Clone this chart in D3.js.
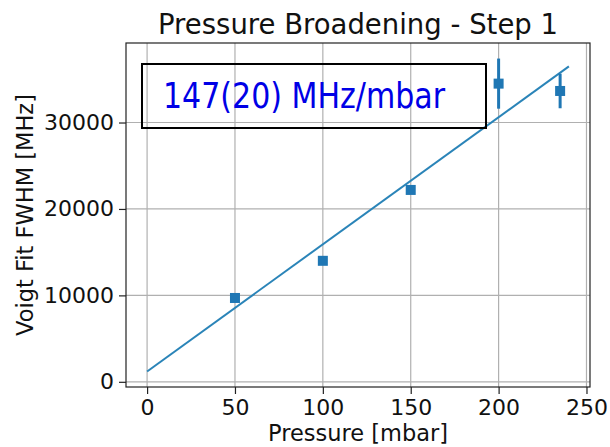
<!DOCTYPE html>
<html lang="en">
  <head>
    <meta charset="utf-8">
    <title>Pressure Broadening - Step 1</title>
    <script src="https://cdn.jsdelivr.net/npm/d3@7"></script>
    <style type="text/css">
     body { margin: 0; background: #fff; }
     text { font-family: "DejaVu Sans", sans-serif; }
    </style>
  </head>
  <body>
    <script type="text/javascript">
     // data
     let pressure = [50, 100, 150, 200, 235];            // mbar
     let fwhm = [9700, 14000, 22200, 34500, 33650];      // MHz
     let fwhmErr = [250, 300, 350, 2900, 2000];
     let fitX = [0, 240];
     let fitY = [1200, 36500];
     let xTicks = [0, 50, 100, 150, 200, 250];
     let yTicks = [0, 10000, 20000, 30000];
     let annotation = "147(20) MHz/mbar";

     let w = 610, h = 447;
     let margin = {top: 43, right: 20, bottom: 60, left: 126};

     let svg = d3.select("body").append("svg")
                 .attr("width", w)
                 .attr("height", h)
                 .style("display", "block");

     let xScale = d3.scaleLinear()
                    .domain([-12, 252])
                    .range([margin.left, w - margin.right]);
     let yScale = d3.scaleLinear()
                    .domain([-600, 39200])
                    .range([h - margin.bottom, margin.top]);

     // grid
     svg.append("g").selectAll("line")
        .data(xTicks).enter().append("line")
        .attr("x1", d => xScale(d)).attr("x2", d => xScale(d))
        .attr("y1", margin.top).attr("y2", h - margin.bottom)
        .attr("stroke", "#b0b0b0").attr("stroke-width", 1.2);
     svg.append("g").selectAll("line")
        .data(yTicks).enter().append("line")
        .attr("y1", d => yScale(d)).attr("y2", d => yScale(d))
        .attr("x1", margin.left).attr("x2", w - margin.right)
        .attr("stroke", "#b0b0b0").attr("stroke-width", 1.2);

     // axes
     let xAxis = svg.append("g")
                    .attr("transform", "translate(0," + (h - margin.bottom) + ")")
                    .call(d3.axisBottom(xScale).tickValues(xTicks).tickSize(7).tickPadding(5).tickSizeOuter(0));
     let yAxis = svg.append("g")
                    .attr("transform", "translate(" + margin.left + ",0)")
                    .call(d3.axisLeft(yScale).tickValues(yTicks).tickFormat(d3.format("d")).tickSize(7).tickPadding(5).tickSizeOuter(0));
     [xAxis, yAxis].forEach(a => {
       a.select(".domain").remove();
       a.selectAll("line").attr("stroke", "#222").attr("stroke-width", 1.2);
       a.selectAll("text").attr("font-size", "22px").attr("fill", "#111")
        .attr("font-family", "DejaVu Sans, sans-serif");
     });

     // frame
     svg.append("rect")
        .attr("x", margin.left).attr("y", margin.top)
        .attr("width", w - margin.right - margin.left)
        .attr("height", h - margin.bottom - margin.top)
        .attr("fill", "none").attr("stroke", "#222").attr("stroke-width", 1.2);

     // fit line
     svg.append("path")
        .datum(d3.zip(fitX, fitY))
        .attr("d", d3.line().x(d => xScale(d[0])).y(d => yScale(d[1])))
        .attr("fill", "none")
        .attr("stroke", "#2a84b8")
        .attr("stroke-width", 2);

     // error bars
     let pts = d3.zip(pressure, fwhm, fwhmErr);
     svg.append("g").selectAll("line")
        .data(pts).enter().append("line")
        .attr("x1", d => xScale(d[0])).attr("x2", d => xScale(d[0]))
        .attr("y1", d => yScale(d[1] - d[2])).attr("y2", d => yScale(d[1] + d[2]))
        .attr("stroke", "#1f77b4").attr("stroke-width", 3);

     // markers
     let ms = 10;
     svg.append("g").selectAll("rect")
        .data(pts).enter().append("rect")
        .attr("x", d => xScale(d[0]) - ms / 2)
        .attr("y", d => yScale(d[1]) - ms / 2)
        .attr("width", ms).attr("height", ms)
        .attr("fill", "#1f77b4");

     // annotation box (transparent, grid shows through)
     svg.append("rect")
        .attr("x", 142).attr("y", 64)
        .attr("width", 344).attr("height", 64)
        .attr("fill", "none")
        .attr("stroke", "#000").attr("stroke-width", 2);
     svg.append("text")
        .attr("x", 163).attr("y", 108)
        .attr("font-family", "Noto Sans, sans-serif")
        .attr("font-size", "35px")
        .attr("fill", "#0000e6")
        .attr("textLength", 282)
        .attr("lengthAdjust", "spacingAndGlyphs")
        .text(annotation);

     // title and labels
     let cx = (margin.left + w - margin.right) / 2;
     svg.append("text")
        .attr("x", cx).attr("y", 34)
        .attr("text-anchor", "middle")
        .attr("font-size", "27.5px").attr("fill", "#111")
        .text("Pressure Broadening - Step 1");
     svg.append("text")
        .attr("x", cx).attr("y", 441)
        .attr("text-anchor", "middle")
        .attr("font-size", "22.5px").attr("fill", "#111")
        .text("Pressure [mbar]");
     svg.append("text")
        .attr("transform", "translate(33," + ((margin.top + h - margin.bottom) / 2) + ") rotate(-90)")
        .attr("text-anchor", "middle")
        .attr("font-size", "22.5px").attr("fill", "#111")
        .text("Voigt Fit FWHM [MHz]");
    </script>
  </body>
</html>
